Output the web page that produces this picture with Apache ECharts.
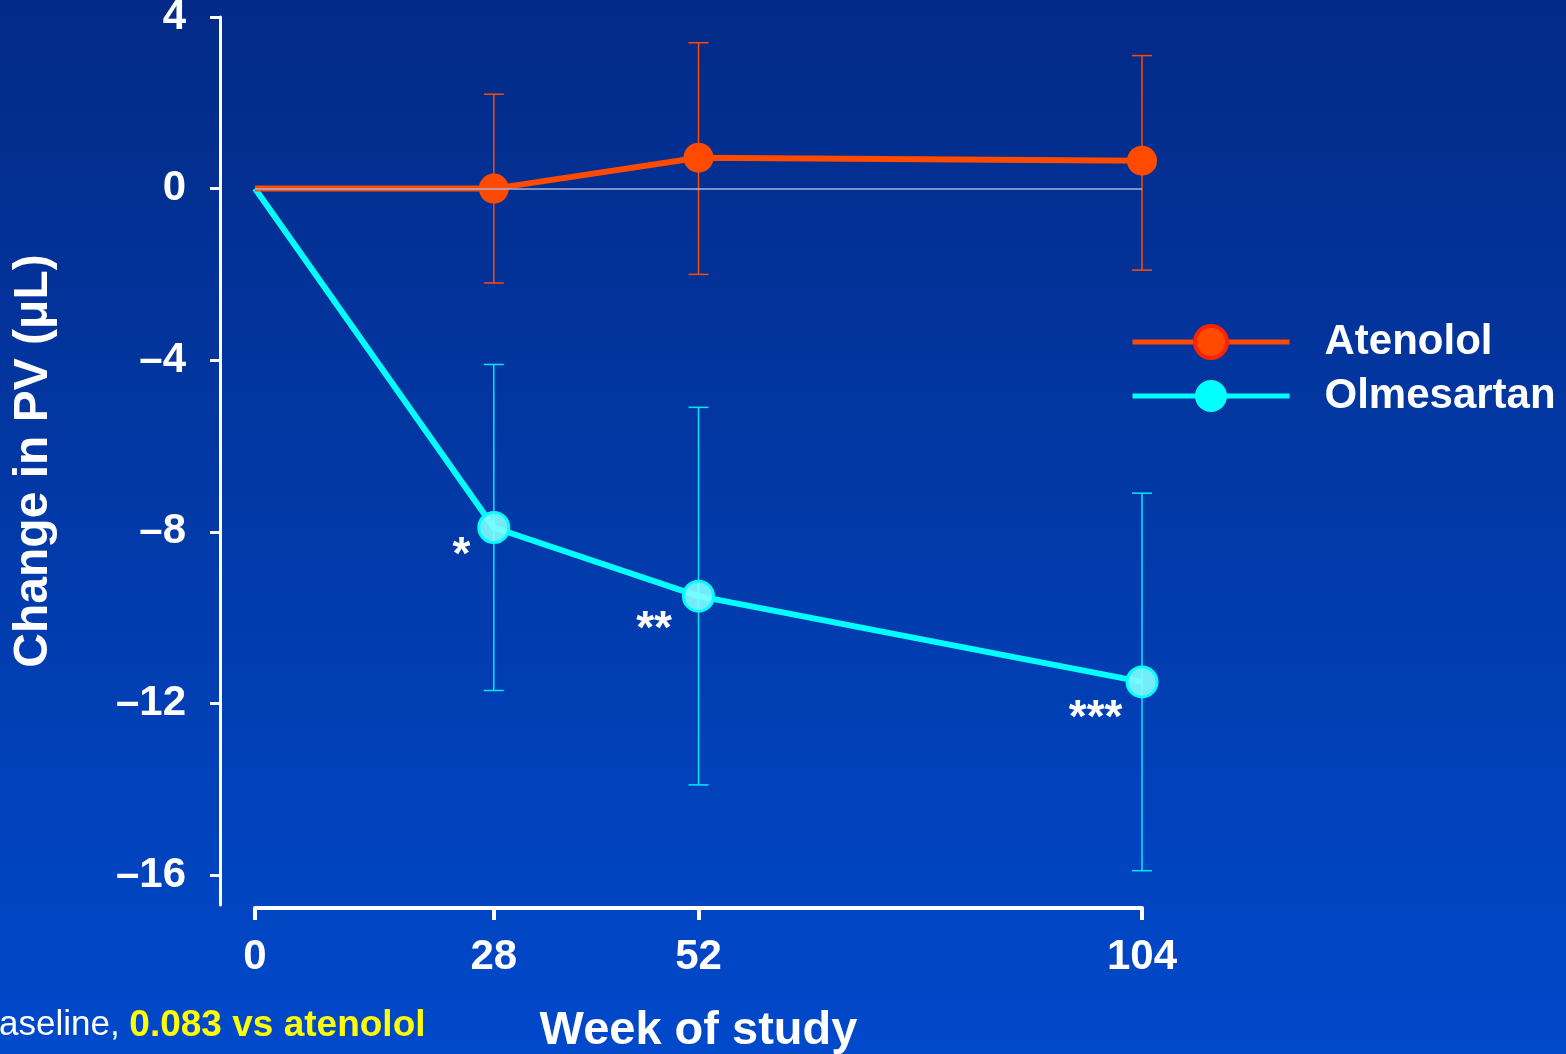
<!DOCTYPE html>
<html>
<head>
<meta charset="utf-8">
<script src="https://cdn.jsdelivr.net/npm/echarts@6/dist/echarts.min.js"></script>
<style>
  html, body { margin: 0; padding: 0; }
  #pvChart { width: 1566px; height: 1054px; }
</style>
</head>
<body>
<div id="pvChart"></div>
<script>
const weeks = [0, 28, 52, 104]
const atenolol = [0, 0, 0.72, 0.65]
const atenololLow = [null, -2.2, -2.0, -1.9]
const atenololHigh = [null, 2.2, 3.4, 3.1]
const olmesartan = [0, -7.9, -9.5, -11.5]
const olmesartanLow = [null, -11.7, -13.9, -15.9]
const olmesartanHigh = [null, -4.1, -5.1, -7.1]
const stars = ['', '*', '**', '***']
const yTicks = [4, 0, -4, -8, -12, -16]
const xTicks = [0, 28, 52, 104]

const font = '"Liberation Sans", Arial, sans-serif'
const orange = '#FF4A00'
const cyan = '#00FFFF'

function errorData(low, high) {
  const out = []
  weeks.forEach((w, i) => {
    if (low[i] !== null) out.push([w, low[i], high[i]])
  })
  return out
}

function errorBars(color) {
  return function (params, api) {
    const top = api.coord([api.value(0), api.value(2)])
    const bottom = api.coord([api.value(0), api.value(1)])
    const half = 10
    const style = { stroke: color, lineWidth: 1.5 }
    return {
      type: 'group',
      children: [
        { type: 'line', shape: { x1: top[0], y1: top[1], x2: bottom[0], y2: bottom[1] }, style },
        { type: 'line', shape: { x1: top[0] - half, y1: top[1], x2: top[0] + half, y2: top[1] }, style },
        { type: 'line', shape: { x1: bottom[0] - half, y1: bottom[1], x2: bottom[0] + half, y2: bottom[1] }, style }
      ]
    }
  }
}

const chart = echarts.init(document.getElementById('pvChart'))

// star label nudges (label styling only)
const starOffsets = [[0, 0], [-2, 29], [-5, 34], [2, 37]]

const option = {
  backgroundColor: new echarts.graphic.LinearGradient(0, 0, 0, 1, [
    { offset: 0, color: '#032a86' },
    { offset: 1, color: '#0049cb' }
  ]),
  animation: false,
  title: {
    text: '{w|aseline, }{y|0.083 vs atenolol}',
    left: -1,
    top: 1007,
    padding: 0,
    textStyle: {
      fontWeight: 'normal',
      rich: {
        w: { color: '#fff', fontSize: 35, fontWeight: 'normal', fontFamily: font },
        y: { color: '#FFFF00', fontSize: 37, fontWeight: 'bold', fontFamily: font }
      }
    }
  },
  legend: {
    orient: 'vertical',
    left: 1130,
    top: 321,
    padding: 0,
    itemWidth: 157,
    itemHeight: 40,
    itemGap: 12,
    textStyle: { color: '#fff', fontSize: 42, fontWeight: 'bold', fontFamily: font, padding: [0, 0, 0, 30] },
    data: [
      {
        name: 'Atenolol',
        itemStyle: { color: orange, borderColor: '#FF2200', borderWidth: 4 },
        lineStyle: { color: orange, width: 5 }
      },
      {
        name: 'Olmesartan',
        itemStyle: { color: cyan, borderWidth: 0 },
        lineStyle: { color: cyan, width: 5 }
      }
    ]
  },
  grid: { left: 255, right: 424, top: 17, bottom: 149, outerBoundsMode: 'none', containLabel: false },
  xAxis: {
    type: 'value',
    min: 0,
    max: 104,
    offset: 3,
    name: 'Week of study',
    nameLocation: 'middle',
    nameGap: 100,
    nameTextStyle: { color: '#fff', fontSize: 47, fontWeight: 'bold', fontFamily: font },
    axisLine: { show: true, onZero: false, lineStyle: { color: '#fff', width: 4 } },
    axisTick: { show: true, customValues: xTicks, length: 12, lineStyle: { color: '#fff', width: 4 } },
    axisLabel: { customValues: xTicks, color: '#fff', fontSize: 42, fontWeight: 'bold', fontFamily: font, margin: 28 },
    splitLine: { show: false }
  },
  yAxis: {
    type: 'value',
    min: -16.7,
    max: 4,
    offset: 35,
    name: 'Change in PV (μL)',
    nameLocation: 'middle',
    nameGap: 162,
    nameTextStyle: { color: '#fff', fontSize: 48, fontWeight: 'bold', fontFamily: font },
    axisLine: { show: true, onZero: false, lineStyle: { color: '#fff', width: 3 } },
    axisTick: { show: true, customValues: yTicks, length: 10, lineStyle: { color: '#fff', width: 3 } },
    axisLabel: {
      customValues: yTicks,
      color: '#fff',
      fontSize: 42,
      fontWeight: 'bold',
      fontFamily: font,
      margin: 34,
      formatter: v => (v < 0 ? '\u2013' + Math.abs(v) : String(v))
    },
    splitLine: { show: false }
  },
  series: [
    {
      name: 'Atenolol err',
      type: 'custom',
      z: 1,
      silent: true,
      renderItem: errorBars(orange),
      encode: { x: 0, y: [1, 2] },
      data: errorData(atenololLow, atenololHigh)
    },
    {
      name: 'Olmesartan err',
      type: 'custom',
      z: 1,
      silent: true,
      renderItem: errorBars('#00E8FF'),
      encode: { x: 0, y: [1, 2] },
      data: errorData(olmesartanLow, olmesartanHigh)
    },
    {
      name: 'Olmesartan',
      type: 'line',
      z: 3,
      symbol: 'circle',
      symbolSize: 30,
      lineStyle: { color: cyan, width: 6 },
      itemStyle: { color: 'rgba(128,255,255,0.9)', borderColor: cyan, borderWidth: 3 },
      data: weeks.map((w, i) => ({
        value: [w, olmesartan[i]],
        symbol: i === 0 ? 'none' : 'circle',
        label: {
          show: stars[i] !== '',
          position: 'left',
          formatter: stars[i],
          offset: starOffsets[i],
          color: '#fff',
          fontSize: 46,
          fontWeight: 'bold',
          fontFamily: font
        }
      }))
    },
    {
      name: 'Atenolol',
      type: 'line',
      z: 3,
      symbol: 'circle',
      symbolSize: 30,
      lineStyle: { color: orange, width: 6 },
      itemStyle: { color: orange },
      data: weeks.map((w, i) => ({
        value: [w, atenolol[i]],
        symbol: i === 0 ? 'none' : 'circle'
      })),
      markLine: {
        silent: true,
        symbol: 'none',
        label: { show: false },
        lineStyle: { color: '#A8B2D8', width: 1.5, type: 'solid' },
        data: [{ yAxis: 0 }]
      }
    }
  ]
}

chart.setOption(option)
</script>
</body>
</html>
